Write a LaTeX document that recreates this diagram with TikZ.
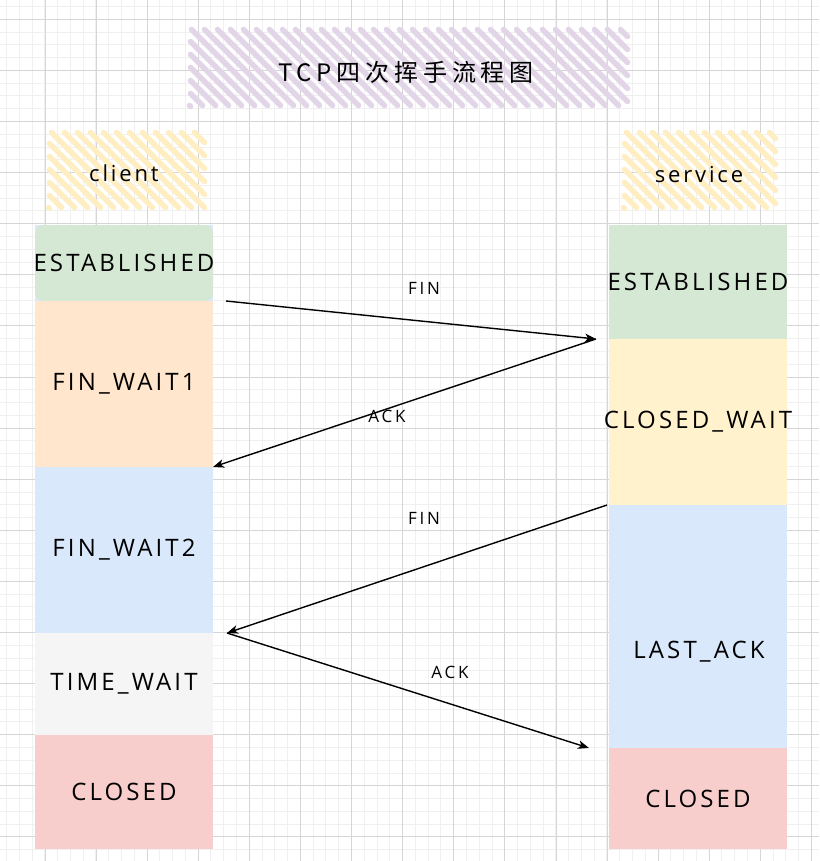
\documentclass[tikz,border=0pt]{standalone}
\usepackage{fontspec}
\newfontfamily\sk{Open Sans}[LetterSpace=13]
\newfontfamily\skl{Open Sans}[LetterSpace=16]
\newfontfamily\cjk{Noto Sans CJK SC}[LetterSpace=20]
\usetikzlibrary{arrows.meta}
\definecolor{cgreen}{HTML}{D5E8D4}
\definecolor{corange}{HTML}{FFE6CC}
\definecolor{cblue}{HTML}{DAE8FC}
\definecolor{cgrey}{HTML}{F5F5F5}
\definecolor{cred}{HTML}{F8CECC}
\definecolor{cyellow}{HTML}{FFF2CC}
\definecolor{chatchy}{HTML}{FFEEC2}
\definecolor{cpurple}{HTML}{E1D5E7}
\definecolor{gminorc}{HTML}{F0F0F0}
\definecolor{gmajorc}{HTML}{D6D6D6}
\newcommand\hatchbox[5]{%
  \pgfmathsetmacro\hbA{#1-#4+4}%
  \pgfmathsetmacro\hbB{\hbA+13}%
  \pgfmathsetmacro\hbE{#3-#2-4}%
  \foreach \hc in {\hbA,\hbB,...,\hbE}{%
    \pgfmathsetmacro\hsx{max(#1,#2+\hc)+2.5}%
    \pgfmathsetmacro\hex{min(#3,#4+\hc)-2.5}%
    \draw[hatch=#5] ({\hsx},{\hsx-(\hc)}) -- ({\hex},{\hex-(\hc)});
  }}
\begin{document}
\begin{tikzpicture}[x=1pt,y=-1pt,
  gminor/.style={draw=gminorc, line width=0.9pt},
  gmajor/.style={draw=gmajorc, line width=1pt},
  hatch/.style={draw=#1, line width=5.5pt, line cap=round},
  state/.style={anchor=north west, minimum width=178pt, inner sep=0pt, outer sep=0pt,
    draw=none, font=\sk\fontsize{24}{24}\selectfont},
  lab/.style={font=\skl\fontsize{17}{17}\selectfont, inner sep=0pt},
  head/.style={font=\sk\fontsize{22}{22}\selectfont, inner sep=0pt},
  conn/.style={draw=black, line width=1.4pt, -{Stealth[length=11pt,width=8.5pt,inset=3pt]}}
]
\useasboundingbox (0,0) rectangle (819,861);
\fill[white] (0,0) rectangle (819,861);
% grid
\foreach \i in {0,...,64} \draw[gminor] ({6.5+12.775*\i},0) -- ++(0,861);
\foreach \i in {0,...,67} \draw[gminor] (0,{6.5+12.775*\i}) -- ++(819,0);
\foreach \i in {0,...,15} \draw[gmajor] ({45+51.1*\i},0) -- ++(0,861);
\foreach \i in {0,...,16} \draw[gmajor] (0,{19.3+51.1*\i}) -- ++(819,0);
% hatched headers
\hatchbox{188}{27}{630}{108}{cpurple}
\hatchbox{47}{130}{207}{210}{chatchy}
\hatchbox{622}{130}{778}{210}{chatchy}
\node[font=\cjk\fontsize{24}{24}\selectfont, inner sep=0pt] (title) at (406,72) {TCP四次挥手流程图};
\node[head] (client) at (124,173) {client};
\node[head] (service) at (699,175) {service};
% client column
\fill[cblue] (35,225) rectangle (213,301);
\node[state, fill=cgreen, rounded corners=8pt, minimum height=76pt] (cest) at (35,225) {\makebox[0pt]{ESTABLISHED}};
\node[state, fill=corange, minimum height=166pt] (cfw1) at (35,301) {\makebox[0pt]{FIN\_WAIT1}};
\node[state, fill=cblue, minimum height=166pt] (cfw2) at (35,467) {\makebox[0pt]{FIN\_WAIT2}};
\node[state, fill=cgrey, minimum height=102pt] (ctw) at (35,633) {\makebox[0pt]{TIME\_WAIT}};
\node[state, fill=cred, minimum height=114pt] (ccl) at (35,735) {\makebox[0pt]{CLOSED}};
% service column
\node[state, fill=cgreen, minimum height=114pt] (sest) at (609,225) {\makebox[0pt]{ESTABLISHED}};
\node[state, fill=cyellow, minimum height=166pt] (scw) at (609,339) {\makebox[0pt]{CLOSED\_WAIT}};
\node[state, fill=cblue, minimum height=243pt] (sla) at (609,505) {};
\node[font=\sk\fontsize{24}{24}\selectfont, inner sep=0pt] (slat) at (699,652) {LAST\_ACK};
\node[state, fill=cred, minimum height=101pt] (scl) at (609,748) {\makebox[0pt]{CLOSED}};
% connector end points
\coordinate (a1) at ([xshift=13pt]cest.south east);
\coordinate (b1) at ([xshift=-13pt]sest.south west);
\coordinate (c1) at (cfw1.south east);
\coordinate (d1) at ([xshift=-2pt]scw.south west);
\coordinate (e1) at ([xshift=14pt]cfw2.south east);
\coordinate (f1) at ([xshift=-20pt]sla.south west);
\draw[conn] (a1) -- (b1);
\draw[conn] (b1) -- (c1);
\draw[conn] (d1) -- (e1);
\draw[conn] (e1) -- (f1);
\node[lab] (fin1) at (424,288) {FIN};
\node[lab] (ack1) at (387,416) {ACK};
\node[lab] (fin2) at (424,518) {FIN};
\node[lab] (ack2) at (450,672) {ACK};
\end{tikzpicture}
\end{document}
